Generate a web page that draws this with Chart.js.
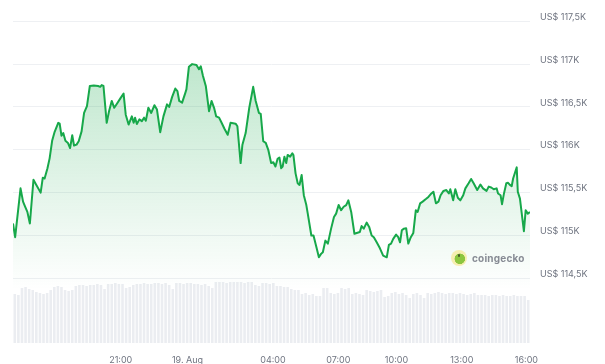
<!DOCTYPE html>
<html lang="de">
<head>
    <meta charset="UTF-8">
    <title>BTC Kurs 24h</title>
    <script src="https://cdn.jsdelivr.net/npm/chart.js"></script>
    <style>
        body { margin: 0; background: #fff; }
        .chart-container {
            position: relative;
            width: 605px;
            height: 364px;
        }
        .watermark {
            position: absolute;
            left: 451px;
            top: 250px;
            display: flex;
            align-items: center;
            pointer-events: none;
        }
        .watermark .logo {
            width: 16px;
            height: 16px;
            border-radius: 50%;
            background: radial-gradient(circle at 55% 55%, #8cc63f 0 5px, #f6eeb0 5.5px 8px);
            position: relative;
        }
        .watermark .logo::after {
            content: '';
            position: absolute;
            left: 7px;
            top: 4px;
            width: 2px;
            height: 3px;
            background: #4a5a2a;
            border-radius: 1px;
        }
        .watermark span {
            margin-left: 5px;
            font-family: Inter, sans-serif;
            font-weight: 700;
            font-size: 10px;
            color: #878b94;
            letter-spacing: 0.2px;
        }
    </style>
</head>
<body>
    <div class="chart-container">
        <canvas id="priceChart"></canvas>
        <div class="watermark"><div class="logo"></div><span>coingecko</span></div>
    </div>

    <script>
        // Position im 24h-Fenster (Minuten) und Kurs in USD
        const xPos = [0,6,21,28,34,40,47,57,65,77,83,88,96,102,109,116,126,130,135,140,146,153,159,165,170,177,183,191,198,206,214,225,237,243,247,252,261,268,275,282,289,299,308,314,322,331,336,340,345,352,359,365,370,377,385,394,401,410,419,429,435,443,452,458,463,471,480,483,490,499,511,518,523,529,537,546,553,560,566,574,581,589,598,606,620,625,634,639,648,658,669,676,685,690,697,704,711,719,725,731,737,742,747,751,756,761,765,772,778,781,787,793,798,804,810,817,821,831,837,845,852,858,863,870,877,886,894,900,907,914,921,928,934,942,951,966,971,977,985,992,999,1005,1013,1022,1031,1041,1047,1053,1059,1067,1073,1078,1083,1089,1095,1101,1108,1115,1122,1127,1134,1141,1150,1157,1163,1171,1178,1185,1191,1199,1207,1214,1218,1226,1232,1239,1246,1254,1260,1269,1276,1283,1293,1302,1309,1319,1325,1332,1339,1347,1351,1358,1362,1367,1374,1379,1384,1389,1393,1403,1406,1412,1423,1428,1434,1440];
        const prices = [115140,114980,115550,115395,115335,115275,115140,115650,115590,115500,115675,115665,115785,115900,116105,116210,116315,116305,116165,116195,116105,116080,116020,116170,116050,116060,116100,116215,116430,116510,116745,116750,116745,116735,116755,116745,116315,116460,116570,116490,116535,116600,116655,116410,116295,116390,116315,116375,116300,116355,116335,116375,116340,116490,116430,116520,116470,116205,116390,116530,116500,116615,116715,116685,116570,116550,116665,116705,116970,117000,116990,116940,116975,116865,116745,116450,116570,116490,116390,116375,116315,116245,116175,116315,116305,116275,115845,116060,116195,116490,116735,116570,116430,116420,116100,116080,116000,115845,115855,115805,115895,115910,115785,115805,115920,115845,115940,115920,115960,115940,115725,115610,115590,115705,115470,115355,115255,115000,115000,114865,114745,114785,114805,114940,114905,115080,115215,115255,115355,115295,115335,115355,115410,115275,115020,115040,115110,115080,115150,115100,115000,114980,114920,114850,114765,114745,114890,114905,114960,115010,114980,114920,115060,115080,115085,114905,114980,115030,115295,115275,115375,115395,115425,115450,115480,115510,115375,115395,115470,115520,115530,115490,115540,115410,115540,115440,115410,115470,115550,115610,115660,115610,115530,115595,115550,115520,115570,115560,115540,115550,115490,115470,115365,115480,115610,115615,115590,115575,115665,115795,115510,115430,115050,115295,115255,115275];

        // Handelsvolumen je 10-Minuten-Balken (relative Einheiten)
        const volumeStep = 10;
        const volumes = [49,48,55,56,54,53,51,50,49,50,53,56,57,56,53,52,53,57,58,58,57,58,58,59,58,54,59,59,60,59,59,55,56,58,59,59,60,59,59,60,60,59,60,58,54,60,60,59,60,60,59,59,58,59,57,55,61,61,61,60,61,61,61,61,60,61,61,58,57,60,60,59,60,57,57,56,56,54,53,53,49,50,48,49,47,47,55,55,50,49,50,55,54,55,49,50,49,48,53,52,51,52,53,46,47,50,51,49,50,48,45,49,50,48,45,50,49,50,51,50,49,50,50,49,50,49,48,49,50,48,48,48,47,48,48,47,48,47,47,48,47,47,47,43];

        // Achsenbeschriftungen
        const yTicks = [114500, 115000, 115500, 116000, 116500, 117000, 117500];
        const xTickPos = [300, 486, 724, 906, 1068, 1250, 1430];
        const xTickLabels = ['21:00', '19. Aug', '04:00', '07:00', '10:00', '13:00', '16:00'];

        const pricePoints = xPos.map((x, i) => ({ x: x, y: prices[i] }));
        const volumePoints = volumes.map((v, i) => ({ x: i * volumeStep + volumeStep / 2, y: v }));

        function formatPrice(value) {
            return 'US$ ' + String(value / 1000).replace('.', ',') + 'K';
        }

        // Achsen sollen keinen Extra-Rand fuer halbe Labels reservieren
        function noPadding(scale) {
            scale.paddingTop = 0;
            scale.paddingBottom = 0;
            scale.paddingLeft = 0;
            scale.paddingRight = 0;
        }

        const ctx = document.getElementById('priceChart').getContext('2d');
        new Chart(ctx, {
            type: 'line',
            data: {
                datasets: [
                    {
                        type: 'line',
                        label: 'Kurs',
                        data: pricePoints,
                        borderColor: '#17a84a',
                        borderWidth: 2,
                        borderJoinStyle: 'round',
                        pointRadius: 0,
                        tension: 0,
                        fill: 'start',
                        backgroundColor: function(context) {
                            const area = context.chart.chartArea;
                            if (!area) return 'rgba(23,168,74,0.15)';
                            const g = context.chart.ctx.createLinearGradient(0, 60, 0, 290);
                            g.addColorStop(0, 'rgba(23,168,74,0.28)');
                            g.addColorStop(0.6, 'rgba(23,168,74,0.11)');
                            g.addColorStop(1, 'rgba(23,168,74,0)');
                            return g;
                        },
                        order: 1
                    },
                    {
                        type: 'bar',
                        label: 'Volumen',
                        data: volumePoints,
                        yAxisID: 'y2',
                        backgroundColor: '#ebedf1',
                        barPercentage: 0.72,
                        categoryPercentage: 1,
                        order: 2
                    }
                ]
            },
            options: {
                responsive: true,
                maintainAspectRatio: false,
                animation: false,
                layout: { padding: { left: 13, top: 5, right: 0, bottom: 0 } },
                plugins: {
                    legend: { display: false },
                    tooltip: { enabled: false }
                },
                scales: {
                    x: {
                        type: 'linear',
                        min: 0,
                        max: 1440,
                        offset: false,
                        grid: { display: false },
                        border: { display: false },
                        afterBuildTicks: function(scale) {
                            scale.ticks = xTickPos.map(v => ({ value: v }));
                        },
                        afterFit: function(scale) {
                            scale.height = 21;
                            noPadding(scale);
                        },
                        ticks: {
                            autoSkip: false,
                            maxRotation: 0,
                            padding: 4,
                            color: '#6f7480',
                            font: { family: 'Inter', size: 9 },
                            callback: function(value) {
                                const i = xTickPos.indexOf(value);
                                return i >= 0 ? xTickLabels[i] : '';
                            }
                        }
                    },
                    y: {
                        position: 'right',
                        min: 113745,
                        max: 117690,
                        grid: { color: '#eef0f3', drawTicks: false },
                        border: { display: false },
                        afterBuildTicks: function(scale) {
                            scale.ticks = yTicks.map(v => ({ value: v }));
                        },
                        afterFit: function(scale) {
                            scale.width = 75;
                            noPadding(scale);
                        },
                        ticks: {
                            padding: 10,
                            labelOffset: -4,
                            color: '#6f7480',
                            font: { family: 'Inter', size: 9 },
                            callback: formatPrice
                        }
                    },
                    y2: {
                        display: false,
                        min: 0,
                        max: 338
                    }
                }
            }
        });
    </script>
</body>
</html>
